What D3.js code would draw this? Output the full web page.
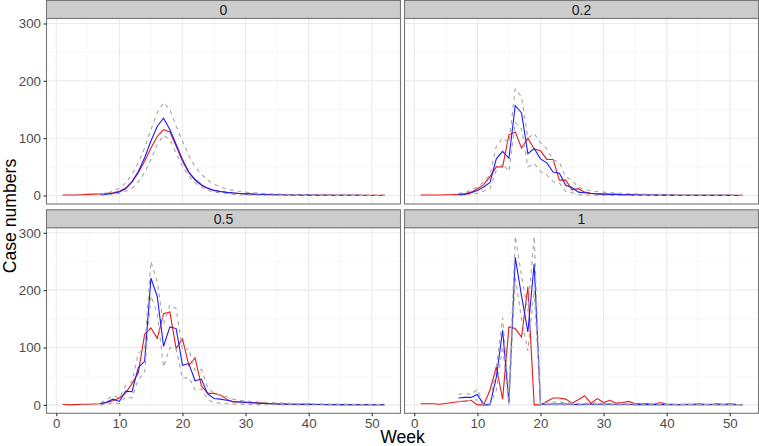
<!DOCTYPE html>
<meta charset="utf-8">
<script src="https://d3js.org/d3.v7.min.js"></script>
<style>
body { margin: 0; background: #fff; }
text { font-family: "Liberation Sans", Arial, Helvetica, sans-serif; }
</style>
<div id="chart"></div>
<script>

// facet labels
var facets = ["0", "0.2", "0.5", "1"];

// observed weeks, and weeks covered by the simulations
var weeks = [1,2,3,4,5,6,7,8,9,10,11,12,13,14,15,16,17,18,19,20,21,22,23,24,25,26,
             27,28,29,30,31,32,33,34,35,36,37,38,39,40,41,42,43,44,45,46,47,48,49,50,51,52];
var simWeeks = [7,8,9,10,11,12,13,14,15,16,17,18,19,20,21,22,23,24,25,26,
                27,28,29,30,31,32,33,34,35,36,37,38,39,40,41,42,43,44,45,46,47,48,49,50,51,52];

var xTicks = [0, 10, 20, 30, 40, 50];
var yTicks = [0, 100, 200, 300];

// ---- facet "0" ----
var obs0 = [1,1,1,1.5,2,2.5,3,4,5,
  7.5,13,24,40,60,83,103,115,111,86,60,40,27,18,12.5,9,7,5.5,4.5,3.5,3,
  2.5,2.2,2,1.8,1.5,1.3,1.2,1,1,0.9,0.8,0.7,0.7,0.6,0.6,0.5,0.5,0.4,0.4,0.4,0.3,0.3];
var mean0 = [1.5,2.5,4,
  6.4,12,24,42,66,95,121,135,115,89,63,41,28,19,13,9,7,5.5,4.5,3.5,3,
  2.5,2,1.8,1.5,1.3,1.1,1,0.9,0.8,0.7,0.6,0.5,0.5,0.4,0.4,0.3,0.3,0.3,0.2,0.2,0.2,0.2];
var upper0 = [2.5,4,7.5,
  13,22,37,57,83,115,144,162,150,121,95,70,50,37,27,20,15,11,9,7,6,
  5,4.2,3.6,3.1,2.7,2.4,2.1,1.9,1.7,1.5,1.4,1.3,1.2,1.1,1,1,0.9,0.9,0.8,0.8,0.7,0.7];
var lower0 = [0.3,1,2,
  4,7.5,13,24,40,63,89,105,98,74,51,34,22,14.5,9,6,4.5,3.5,2.3,1.7,1.2,
  1,0.8,0.6,0.5,0.4,0.3,0.3,0.2,0.2,0.1,0.1,0.1,0.1,0.1,0,0,0,0,0,0,0,0];

// ---- facet "0.2" ----
var obs1 = [1,1,1,1,1.5,1.5,2,3,6,
  12,19,33,50,50,106,111,83,100,81,78,63,63,27,27,10,12,6,4,3,2.5,
  2,2,1.5,1.5,1.2,1,1,1,0.8,0.8,0.7,0.6,0.6,0.5,0.5,0.5,0.4,0.4,0.4,0.3,0.3,0.3];
var mean1 = [2,2,5,
  9,15,23,64,77,65,157,144,73,82,64,57,41,39,18,14,6,5,3.5,3,2.5,
  2,2,1.5,1.5,1.2,1,1,0.8,0.8,0.7,0.6,0.6,0.5,0.5,0.4,0.4,0.4,0.3,0.3,0.3,0.2,0.2];
var upper1 = [4,5,9,
  15,24,36,86,100,92,186,172,100,108,92,82,62,58,32,27,14,11,8,7,6,
  5,4.5,4,3.5,3,2.8,2.5,2.3,2,2,1.8,1.6,1.5,1.4,1.3,1.2,1.1,1,1,0.9,0.9,0.8];
var lower1 = [0,0.5,2,
  4,8,12,44,55,42,128,116,50,56,42,36,24,22,7,5,1.5,1,0.5,0.5,0.3,
  0.2,0.2,0.1,0.1,0.1,0,0,0,0,0,0,0,0,0,0,0,0,0,0,0,0,0];

// ---- facet "0.5" ----
var obs2 = [1,0,0.5,1,1,1.5,2,4,7,
  12,21,37,56,123,134,116,159,162,98,115,69,82,33,20,20,17,10,5,5,5,
  4,3.5,3,2,1.5,1.5,1,1,1,0.8,0.8,0.7,0.6,0.6,0.5,0.5,0.5,0.4,0.4,0.3,0.3,0.3];
var mean2 = [2,5,10,
  6,24,23,65,76,221,189,102,136,133,69,72,42,45,19,11,10,8,6,5,4,
  3.5,3,2.5,2,1.5,1.3,1.1,1,0.9,0.8,0.7,0.6,0.5,0.5,0.4,0.4,0.3,0.3,0.3,0.2,0.2,0.2];
var upper2 = [4,9,16,
  12,34,40,90,98,250,215,140,174,168,95,98,60,62,30,20,17,14,10,8,7,
  6,5,4.5,4,3.5,3,2.8,2.5,2.3,2,1.9,1.8,1.6,1.5,1.4,1.3,1.2,1.1,1,1,0.9,0.9];
var lower2 = [0,1,4,
  2,14,12,45,56,190,160,66,100,98,46,48,26,28,9,4,3,2,1.5,1,0.8,
  0.5,0.4,0.3,0.2,0.2,0.1,0.1,0,0,0,0,0,0,0,0,0,0,0,0,0,0,0];

// ---- facet "1" ----
var obs3 = [2,2,2,1,2.5,4,5.5,6.5,8,
  0,0,26,66,10,136,133,118,206,0,0,6,12,12,10,3,9,16,3,11,4,
  8,3,4,6,2,2,2,1,4,1,1,0.5,1,1,2,1,1,2,1,2,1,0.5];
var mean3 = [12,13,13,
  18,0,0,48,130,4,257,190,127,246,1,1,1.5,1.5,1.5,1,0.5,1,1.5,1,1.5,
  1,1,1,1,0.5,0.5,0.5,0.5,0.5,0.5,0.3,0.3,0.3,0.3,0.3,0.3,0.2,0.2,0.2,0.2,0.2,0.2];
var upper3 = [18,20,18,
  27,2,2,65,152,18,294,225,163,294,3,4,5,5,4,3,2,3,3,3,3,
  2.5,2.5,2,2,1.5,1.5,1.5,1.2,1.2,1,1,1,0.8,0.8,0.8,0.7,0.7,0.6,0.6,0.6,0.5,0.5];
var lower3 = [6,7,8,
  9,0,0,25,102,0,222,150,94,200,0,0,0,0,0,0,0,0,0,0,0,
  0,0,0,0,0,0,0,0,0,0,0,0,0,0,0,0,0,0,0,0,0,0];

var panels = [
  {label: facets[0], obs: obs0, mean: mean0, upper: upper0, lower: lower0},
  {label: facets[1], obs: obs1, mean: mean1, upper: upper1, lower: lower1},
  {label: facets[2], obs: obs2, mean: mean2, upper: upper2, lower: lower2},
  {label: facets[3], obs: obs3, mean: mean3, upper: upper3, lower: lower3}
];

// layout
var width = 759, height = 446;
var cols = [46.5, 404.5], panelW = 354;
var rows = [0.5, 209.8], stripH = 18, panelH = 185.5;

var svg = d3.select("#chart")
  .append("svg")
    .attr("width", width)
    .attr("height", height);

// ggplot-like 5% expansion on both axes
var allVals = [].concat(obs0, mean0, upper0, lower0, obs1, mean1, upper1, lower1,
                        obs2, mean2, upper2, lower2, obs3, mean3, upper3, lower3);
var yMax = d3.max(allVals), yMin = 0;
var yPad = (yMax - yMin) * 0.05;
var xPad = (d3.max(weeks) - d3.min(weeks)) * 0.05;

var x = d3.scaleLinear()
  .domain([d3.min(weeks) - xPad, d3.max(weeks) + xPad])
  .range([0, panelW]);
var y = d3.scaleLinear()
  .domain([yMin - yPad, yMax + yPad])
  .range([panelH, 0]);

var line = d3.line()
  .x(function(d) { return x(d[0]); })
  .y(function(d) { return y(d[1]); });

function pairs(ws, vs) {
  return vs.map(function(v, i) { return [ws[i], v]; });
}

panels.forEach(function(p, i) {
  var col = i % 2, row = Math.floor(i / 2);
  var left = cols[col], top = rows[row];

  // strip
  var strip = svg.append("g").attr("transform", "translate(" + left + "," + top + ")");
  strip.append("rect")
    .attr("width", panelW)
    .attr("height", stripH)
    .attr("fill", "#cccccc")
    .attr("stroke", "#777777")
    .attr("stroke-width", 1.1);
  strip.append("text")
    .attr("x", panelW / 2)
    .attr("y", stripH / 2 + 5)
    .attr("text-anchor", "middle")
    .style("font-size", "14px")
    .style("fill", "#1a1a1a")
    .text(p.label);

  var g = svg.append("g").attr("transform", "translate(" + left + "," + (top + stripH) + ")");
  g.append("rect")
    .attr("width", panelW)
    .attr("height", panelH)
    .attr("fill", "#ffffff");

  // minor grid
  g.selectAll("xminor").data([5, 15, 25, 35, 45]).enter()
    .append("line")
      .attr("x1", function(d) { return x(d); }).attr("x2", function(d) { return x(d); })
      .attr("y1", 0).attr("y2", panelH)
      .attr("stroke", "#f2f2f2").attr("stroke-width", 0.6);
  g.selectAll("yminor").data([50, 150, 250]).enter()
    .append("line")
      .attr("y1", function(d) { return y(d); }).attr("y2", function(d) { return y(d); })
      .attr("x1", 0).attr("x2", panelW)
      .attr("stroke", "#f2f2f2").attr("stroke-width", 0.6);
  // major grid
  g.selectAll("xmajor").data(xTicks).enter()
    .append("line")
      .attr("x1", function(d) { return x(d); }).attr("x2", function(d) { return x(d); })
      .attr("y1", 0).attr("y2", panelH)
      .attr("stroke", "#ebebeb").attr("stroke-width", 1.1);
  g.selectAll("ymajor").data(yTicks).enter()
    .append("line")
      .attr("y1", function(d) { return y(d); }).attr("y2", function(d) { return y(d); })
      .attr("x1", 0).attr("x2", panelW)
      .attr("stroke", "#ebebeb").attr("stroke-width", 1.1);

  // series: observed (red), simulated mean (blue), bounds (grey dashed)
  g.append("path")
    .attr("d", line(pairs(weeks, p.obs)))
    .attr("fill", "none").attr("stroke", "#e61a1a").attr("stroke-width", 1.1);
  g.append("path")
    .attr("d", line(pairs(simWeeks, p.mean)))
    .attr("fill", "none").attr("stroke", "#1a1aff").attr("stroke-width", 1.1);
  [p.upper, p.lower].forEach(function(b) {
    g.append("path")
      .attr("d", line(pairs(simWeeks, b)))
      .attr("fill", "none").attr("stroke", "#a6a6a6")
      .attr("stroke-width", 1.1).attr("stroke-dasharray", "4,4");
  });

  // panel border
  g.append("rect")
    .attr("width", panelW)
    .attr("height", panelH)
    .attr("fill", "none")
    .attr("stroke", "#777777")
    .attr("stroke-width", 1.1);

  // axes
  if (col === 0) {
    var ya = g.append("g")
      .call(d3.axisLeft(y).tickValues(yTicks).tickSize(3).tickPadding(2.5));
    ya.select(".domain").remove();
    ya.selectAll("line").attr("stroke", "#333333").attr("stroke-width", 1.1);
    ya.selectAll("text").style("font-size", "13.3px").style("fill", "#4d4d4d")
      .style("font-family", "Liberation Sans, Arial, sans-serif");
  }
  if (row === 1) {
    var xa = g.append("g")
      .attr("transform", "translate(0," + panelH + ")")
      .call(d3.axisBottom(x).tickValues(xTicks).tickSize(3).tickPadding(2.5));
    xa.select(".domain").remove();
    xa.selectAll("line").attr("stroke", "#333333").attr("stroke-width", 1.1);
    xa.selectAll("text").style("font-size", "13.3px").style("fill", "#4d4d4d")
      .style("font-family", "Liberation Sans, Arial, sans-serif");
  }
});

// axis titles
svg.append("text")
  .attr("x", (cols[0] + cols[1] + panelW) / 2)
  .attr("y", 443)
  .attr("text-anchor", "middle")
  .style("font-size", "17.6px")
  .style("fill", "#000")
  .text("Week");

svg.append("text")
  .attr("transform", "translate(16,216) rotate(-90)")
  .attr("text-anchor", "middle")
  .style("font-size", "17.6px")
  .style("fill", "#000")
  .text("Case numbers");

</script>
